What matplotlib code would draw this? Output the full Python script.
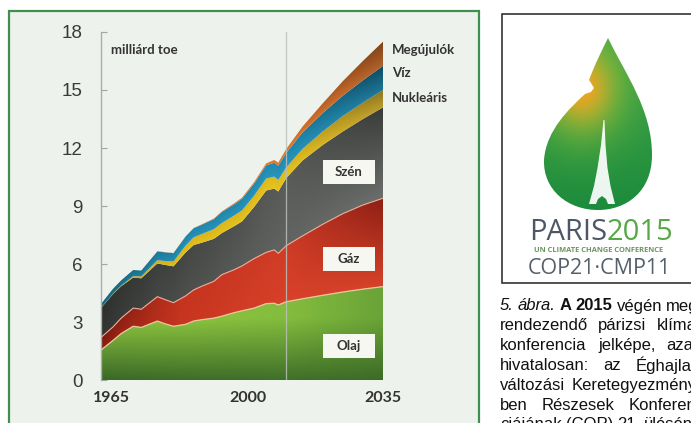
import numpy as np
import matplotlib
matplotlib.use("Agg")
import matplotlib.pyplot as plt
from matplotlib.path import Path
from matplotlib.patches import Rectangle, PathPatch, Polygon
from matplotlib.colors import to_rgb

# world primary energy by fuel, billion toe
years = [1965, 1968, 1970, 1973, 1975, 1979, 1981, 1983, 1986, 1988, 1990, 1993, 1995,
         1998, 2000, 2003, 2006, 2008, 2009, 2011, 2015, 2020, 2025, 2030, 2035]
olaj = [1.55, 2.05, 2.40, 2.78, 2.72, 3.05, 2.90, 2.78, 2.88, 3.05, 3.12, 3.20, 3.30,
        3.48, 3.58, 3.72, 3.95, 3.97, 3.88, 4.05, 4.20, 4.38, 4.55, 4.70, 4.83]
gaz = [0.65, 0.70, 0.80, 0.94, 0.94, 1.26, 1.25, 1.22, 1.47, 1.61, 1.73, 1.90, 2.15,
       2.22, 2.32, 2.56, 2.65, 2.76, 2.67, 2.90, 3.25, 3.67, 4.05, 4.35, 4.57]
szen = [1.52, 1.70, 1.65, 1.58, 1.60, 1.72, 1.80, 1.88, 2.25, 2.32, 2.25, 2.20, 2.15,
        2.25, 2.30, 2.67, 3.20, 3.17, 3.20, 3.50, 3.90, 4.10, 4.25, 4.45, 4.70]
nuklearis = [0.01, 0.02, 0.03, 0.07, 0.10, 0.17, 0.20, 0.25, 0.35, 0.40, 0.45, 0.50, 0.52,
             0.55, 0.57, 0.58, 0.62, 0.62, 0.60, 0.55, 0.60, 0.70, 0.80, 0.85, 0.90]
viz = [0.20, 0.25, 0.27, 0.32, 0.30, 0.45, 0.45, 0.43, 0.47, 0.47, 0.48, 0.52, 0.57,
       0.58, 0.60, 0.62, 0.68, 0.72, 0.73, 0.75, 0.85, 0.95, 1.05, 1.15, 1.25]
megujulok = [0.00, 0.00, 0.00, 0.00, 0.00, 0.01, 0.01, 0.01, 0.01, 0.01, 0.02, 0.03, 0.03,
             0.05, 0.06, 0.08, 0.10, 0.14, 0.16, 0.20, 0.30, 0.50, 0.75, 1.00, 1.25]

fuel_names = ["Olaj", "Gáz", "Szén", "Nukleáris", "Víz", "Megújulók"]
y_ticks = [0, 3, 6, 9, 12, 15, 18]
x_labels = ["1965", "2000", "2035"]
projection_start = 2011

caption = [
    [("5.", "i"), ("ábra.", "i"), ("A", "b"), ("2015", "b"), ("végén", "n"), ("meg-", "n")],
    [("rendezendő", "n"), ("párizsi", "n"), ("klíma-", "n")],
    [("konferencia", "n"), ("jelképe,", "n"), ("azaz", "n")],
    [("hivatalosan:", "n"), ("az", "n"), ("Éghajlat-", "n")],
    [("változási", "n"), ("Keretegyezmény-", "n")],
    [("ben", "n"), ("Részesek", "n"), ("Konferen-", "n")],
    [("ciájának", "n"), ("(COP)", "n"), ("21.", "n"), ("ülésén", "n")],
]

# gradient colours per band: x stops, colour at band bottom, colour at band top
xstops = [1965, 1985, 2011, 2035]
band_cols = [
    (["#3a6826", "#3d6d28", "#3f7029", "#3c6b27"], ["#8ec640", "#8cc43f", "#84bd3d", "#6aa337"]),
    (["#8c1e12", "#c8361f", "#d8412a", "#d6422a"], ["#7a1a0f", "#c43420", "#d03c26", "#8c1f14"]),
    (["#333533", "#4c4e4c", "#626462", "#6c6e6c"], ["#2e302e", "#444644", "#5a5c5a", "#3a3c3a"]),
    (["#c9a61a", "#e2bf1c", "#e8c41f", "#b89a2c"], ["#b89818", "#d8b41a", "#dcb81e", "#8c7424"]),
    (["#1c6e8c", "#2690b6", "#2896bd", "#1c7496"], ["#155a72", "#1f84aa", "#1f88b0", "#0f4a60"]),
    (["#c86a28", "#d87630", "#e07a30", "#b0602a"], ["#b05a22", "#c86a28", "#d4702a", "#7e4218"]),
]


def col_interp(xg, cols):
    rgb = np.array([to_rgb(c) for c in cols])
    return np.stack([np.interp(xg, xstops, rgb[:, k]) for k in range(3)], axis=-1)


fig = plt.figure(figsize=(6.91, 4.23), dpi=100)
fig.patch.set_facecolor("white")

# page layer in pixel coordinates
bg = fig.add_axes([0, 0, 1, 1], zorder=0)
bg.set_xlim(0, 691)
bg.set_ylim(423, 0)
bg.axis("off")
bg.add_patch(Rectangle((9, 11), 470, 440, facecolor="#eef2ec", edgecolor="#3f8f4f", lw=1.6))

# ---- chart ----
ax = fig.add_axes([101 / 691, 43 / 423, 282 / 691, 348 / 423], zorder=1)
ax.set_facecolor("none")

series = [olaj, gaz, szen, nuklearis, viz, megujulok]
cum = np.cumsum(np.array(series), axis=0)
lower_all = np.vstack([np.zeros(len(years)), cum[:-1]])

nx, ny = 700, 700
xg, yg = np.meshgrid(np.linspace(1965, 2035, nx), np.linspace(0, 18, ny))
for i in range(len(series)):
    lo = np.interp(xg, years, lower_all[i])
    hi = np.interp(xg, years, cum[i])
    if i == 0:
        t = np.clip(yg / 3.2, 0, 1)
    else:
        t = np.clip((yg - lo) / np.maximum(hi - lo, 1e-6), 0, 1)
    bot, top = band_cols[i]
    img = col_interp(xg, bot) * (1 - t[..., None]) + col_interp(xg, top) * t[..., None]
    poly = ax.fill_between(years, lower_all[i], cum[i], facecolor="none", edgecolor="none")
    im = ax.imshow(img, extent=[1965, 2035, 0, 18], origin="lower", aspect="auto",
                   interpolation="bilinear", zorder=2)
    im.set_clip_path(poly.get_paths()[0], ax.transData)

ax.plot(years, cum[0], color="#eec7a2", lw=0.9, zorder=3)
ax.plot(years, cum[1], color="#e6ad98", lw=0.8, zorder=3)
ax.axvline(projection_start, color="#b9c2b9", lw=0.9, alpha=0.85, zorder=4)

ax.set_xlim(1965, 2035)
ax.set_ylim(0, 18)
for s in ["top", "right", "bottom"]:
    ax.spines[s].set_visible(False)
ax.spines["left"].set_color("#a9aea9")
ax.spines["left"].set_linewidth(1.0)
ax.set_yticks(y_ticks)
ax.set_yticklabels([str(v) for v in y_ticks], family="Liberation Sans", fontsize=13.5,
                   color="#3a3a3a")
ax.tick_params(axis="y", direction="in", length=4, width=0.8, color="#a0a6a0", pad=13)
ax.set_xticks([])
for lab, off in zip(x_labels, [10, 6, 0]):
    ax.annotate(lab, xy=(int(lab), 0), xytext=(off, -18), textcoords="offset pixels",
                ha="center", va="center", family="Lato", fontweight="bold", fontsize=11.5,
                color="#333333", annotation_clip=False)

ax.text(1967.5, 17.07, "milliárd toe", family="Lato", fontweight="bold", fontsize=9.5,
        color="#333333", va="center", ha="left")
for name, yv in zip(fuel_names[:2:-1], [17.07, 15.88, 14.59]):
    ax.text(2037.2, yv, name, family="Lato", fontweight="bold", fontsize=9.5,
            color="#333333", va="center", ha="left", clip_on=False)

box_w, box_h = 12.9, 1.29
for name, yv in zip(fuel_names[:3], [1.76, 6.26, 10.76]):
    ax.add_patch(Rectangle((2026.5 - box_w / 2, yv - box_h / 2), box_w, box_h,
                           facecolor="#f7f7f2", edgecolor="none", zorder=5))
    ax.text(2026.5, yv, name, family="Lato", fontweight="bold", fontsize=9.5,
            color="#333333", ha="center", va="center", zorder=6)

# ---- COP21 logo ----
bg.add_patch(Rectangle((502, 14), 200, 269, facecolor="white", edgecolor="#222222", lw=1.1))

leaf_verts = [(608, 38),
              (626, 75), (652, 110), (652, 155),
              (652, 192), (626, 210), (598, 210),
              (568, 210), (543, 190), (544, 160),
              (546, 130), (570, 108), (585, 94),
              (591, 92), (594, 88), (591, 83), (589, 80),
              (595, 64), (602, 50), (608, 38),
              (608, 38)]
leaf_codes = ([Path.MOVETO] + [Path.CURVE4] * 12 + [Path.LINETO] * 4
              + [Path.CURVE4] * 3 + [Path.CLOSEPOLY])
leaf = Path(leaf_verts, leaf_codes)
leaf_patch = PathPatch(leaf, facecolor="none", edgecolor="none")
bg.add_patch(leaf_patch)

lx, ly = np.meshgrid(np.linspace(538, 658, 240), np.linspace(35, 215, 360))
g_top, g_bot = np.array(to_rgb("#3aa548")), np.array(to_rgb("#1b8a3c"))
lime, orange = np.array(to_rgb("#9cc53a")), np.array(to_rgb("#f5a21e"))
f = np.clip((ly - 40) / 175, 0, 1)[..., None]
leaf_img = g_top * (1 - f) + g_bot * f
d = np.hypot((lx - 582) * 1.2, ly - 88)
w1 = (np.exp(-(d / 55) ** 2) * 0.8)[..., None]
leaf_img = leaf_img * (1 - w1) + lime * w1
w2 = (np.exp(-(d / 30) ** 2) * 0.95)[..., None]
leaf_img = leaf_img * (1 - w2) + orange * w2
lim = bg.imshow(leaf_img, extent=[538, 658, 215, 35], origin="upper", aspect="auto",
                interpolation="bilinear", zorder=2)
lim.set_clip_path(leaf_patch)

tower = [(603.5, 120), (604.5, 120), (605.5, 145), (607.5, 168), (610.5, 186), (615, 204),
         (608, 204), (606, 199), (602, 196), (598, 199), (596, 204), (589, 204),
         (594, 186), (597.5, 168), (601, 145)]
bg.add_patch(Polygon(tower, closed=True, facecolor="white", edgecolor="none", alpha=0.92,
                     zorder=3))

bg.text(607, 233, "PARIS", family="Open Sans", fontsize=21, color="#4d5866",
        ha="right", va="center")
bg.text(607, 233, "2015", family="Open Sans", fontsize=21, color="#56a845",
        ha="left", va="center")
bg.text(599, 251, "UN CLIMATE CHANGE CONFERENCE", family="Open Sans", fontsize=5.4,
        fontweight="bold", color="#6a9560", ha="center", va="center")
bg.text(599, 268, "COP21·CMP11", family="Open Sans", fontsize=15.5, color="#55606a",
        ha="center", va="center")

# ---- caption, justified by word ----
renderer = fig.canvas.get_renderer()
styles = {"i": dict(style="italic"), "b": dict(fontweight="bold"), "n": {}}
x0, x1 = 500, 702
for k, words in enumerate(caption):
    yline = 306 + 19.8 * k
    texts = [bg.text(0, yline, w, family="Liberation Sans", fontsize=12, color="#111111",
                     va="center", ha="left", **styles[s]) for w, s in words]
    widths = [t.get_window_extent(renderer).width for t in texts]
    gap = (x1 - x0 - sum(widths)) / (len(words) - 1)
    if k == len(caption) - 1 or gap < 4:
        gap = 4
    x = x0
    for t, w in zip(texts, widths):
        t.set_x(x)
        x += w + gap

fig.savefig("out.png", dpi=100)
